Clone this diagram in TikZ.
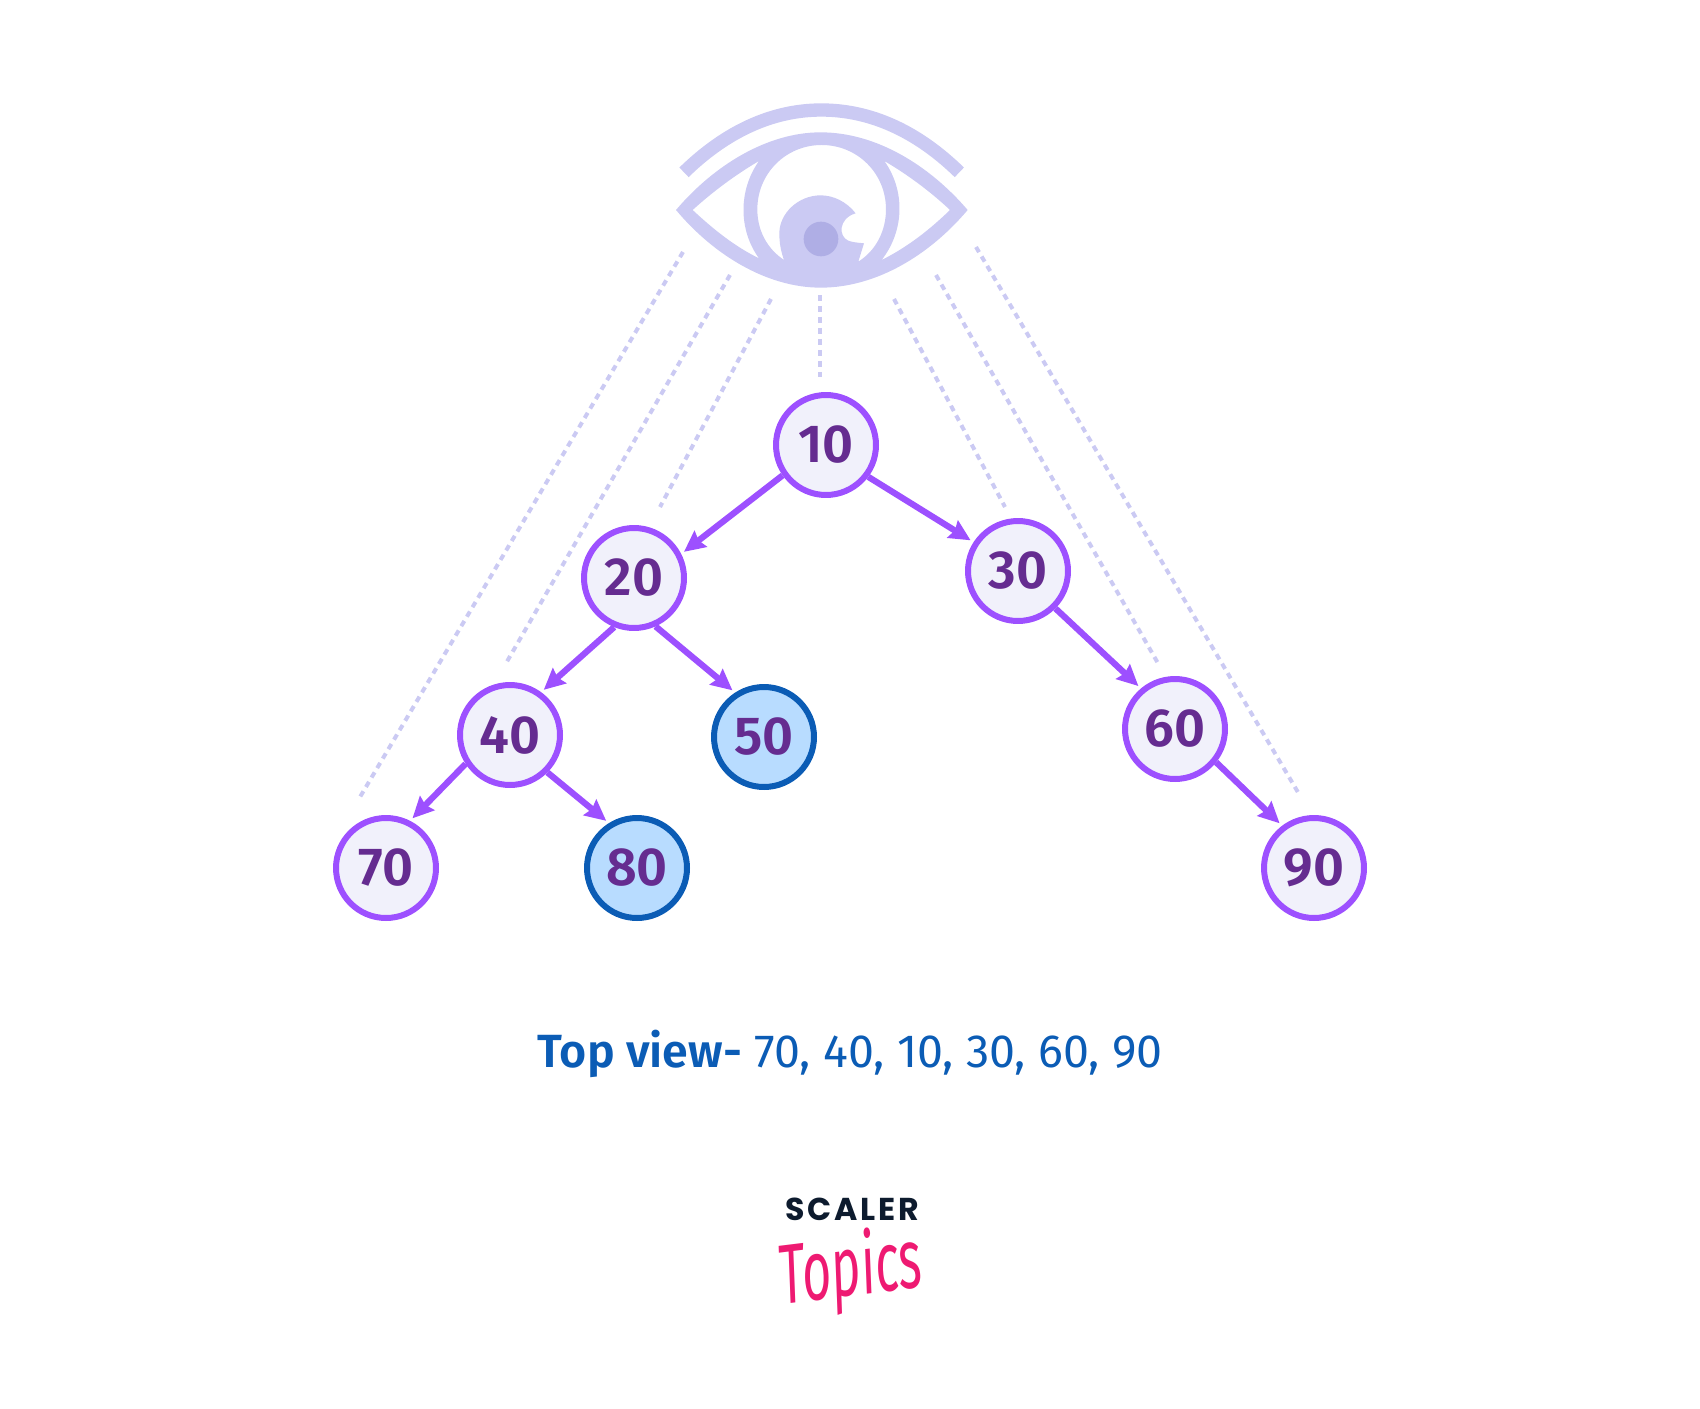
\documentclass[tikz,border=0pt]{standalone}
\usepackage{fontspec}
\setmainfont[BoldFont={Fira Sans SemiBold}]{Fira Sans}
\newfontfamily\logofont[LetterSpace=9]{Poppins}
\newfontfamily\topicsfont{Fira Sans}
\usetikzlibrary{arrows.meta}
\definecolor{eyecol}{HTML}{CBCAF3}
\definecolor{eyedark}{HTML}{AFAEE5}
\definecolor{viol}{HTML}{9D50FF}
\definecolor{numcol}{HTML}{652C90}
\definecolor{pale}{HTML}{F1F1FB}
\definecolor{bluefill}{HTML}{B8DCFF}
\definecolor{blueline}{HTML}{0B5CB5}
\definecolor{pinkcol}{HTML}{EE1A72}
\definecolor{inkcol}{HTML}{0D1B2E}
\tikzset{
  treenode/.style={circle,draw=viol,fill=pale,line width=0.12cm,minimum size=2cm,inner sep=0pt,
    text=numcol,font=\fontsize{30.5}{30.5}\selectfont\bfseries},
  leafnode/.style={treenode,draw=blueline,fill=bluefill},
  treearrow/.style={draw=viol,line width=0.125cm,shorten >=0.07cm,-{Stealth[length=0.42cm,width=0.4cm,inset=0.05cm]}},
  sight/.style={draw=eyecol,line width=0.08cm,dash pattern=on 0.12cm off 0.1cm}
}
\begin{document}
\begin{tikzpicture}[x=0.02cm,y=-0.02cm]
\useasboundingbox (0,0) rectangle (1700,1409);
% eye
\begin{scope}[shift={(650,90)},x=0.0066667cm,y=-0.0066667cm]
\draw[eyecol,line width=0.267cm] (102,247) .. controls (230,122) and (370,60) .. (514,60) .. controls (660,60) and (800,122) .. (928,247);
\fill[eyecol,even odd rule]
  (78,360) .. controls (190,228) and (350,127) .. (512,127) .. controls (680,127) and (840,228) .. (953,360)
  .. controls (840,494) and (680,593) .. (512,593) .. controls (350,593) and (190,494) .. (78,360) -- cycle
  (128,360) .. controls (185,308) and (255,255) .. (327,213) .. controls (265,300) and (265,420) .. (327,505)
  .. controls (255,470) and (190,418) .. (128,360) -- cycle
  (900,360) .. controls (845,308) and (775,255) .. (703,213) .. controls (765,300) and (765,420) .. (695,510)
  .. controls (775,470) and (840,418) .. (900,360) -- cycle
  (402,510) .. controls (350,475) and (322,420) .. (322,358) .. controls (322,250) and (408,165) .. (515,165)
  .. controls (622,165) and (708,250) .. (708,358) .. controls (708,420) and (680,480) .. (625,515)
  -- (642,460) .. controls (620,458) and (605,456) .. (595,452) .. controls (565,440) and (565,385) .. (617,370)
  .. controls (590,335) and (550,316) .. (512,316) .. controls (445,316) and (388,370) .. (388,430)
  .. controls (388,460) and (393,485) .. (402,510) -- cycle;
\fill[eyedark] (513,447) circle (52);
\end{scope}
% tree nodes
\node[treenode] (n10) at (826,445) {10};
\node[treenode] (n20) at (634,578) {20};
\node[treenode] (n30) at (1018,571) {30};
\node[treenode] (n40) at (510,735) {40};
\node[leafnode] (n50) at (764,737) {50};
\node[treenode] (n60) at (1175,729) {60};
\node[treenode] (n70) at (386,868) {70};
\node[leafnode] (n80) at (637,868) {80};
\node[treenode] (n90) at (1314,868) {90};
% arrows
\draw[treearrow] (n10.215) -- (n20.27);
\draw[treearrow] (n10.-37) -- (n30.147);
\draw[treearrow] (n20.248) -- (n40.54);
\draw[treearrow] (n20.-66) -- (n50.123);
\draw[treearrow] (n30.-45) -- (n60.130);
\draw[treearrow] (n40.213) -- (n70.63);
\draw[treearrow] (n40.-45) -- (n80.122);
\draw[treearrow] (n60.-39) -- (n90.127);
% sight lines
\coordinate (a1) at (683,252); \coordinate (b1) at (360,797);
\coordinate (a2) at (730,275); \coordinate (b2) at (505,665);
\coordinate (a3) at (771,299); \coordinate (b3) at (660,507);
\coordinate (a4) at (820,295); \coordinate (b4) at (820,377);
\coordinate (a5) at (894,299); \coordinate (b5) at (1005,507);
\coordinate (a6) at (936,275); \coordinate (b6) at (1159,665);
\coordinate (a7) at (976,247); \coordinate (b7) at (1299,794);
\foreach \i in {1,...,7} \draw[sight] (a\i) -- (b\i);
% caption
\node[text=blueline,font=\fontsize{26.5}{26.5}\selectfont,inner sep=0pt] (cap) at (850,1054) {\textbf{Top view-} 70, 40, 10, 30, 60, 90};
% logo
\node[text=inkcol,font=\logofont\fontsize{18}{18}\selectfont\bfseries,inner sep=0pt] (logoa) at (852,1209) {SCALER};
\node[text=pinkcol,font=\topicsfont\fontsize{40}{40}\selectfont\itshape,inner sep=0pt,rotate=7,xscale=0.72,yscale=1.2] (logob) at (851,1272) {Topics};
\end{tikzpicture}
\end{document}
